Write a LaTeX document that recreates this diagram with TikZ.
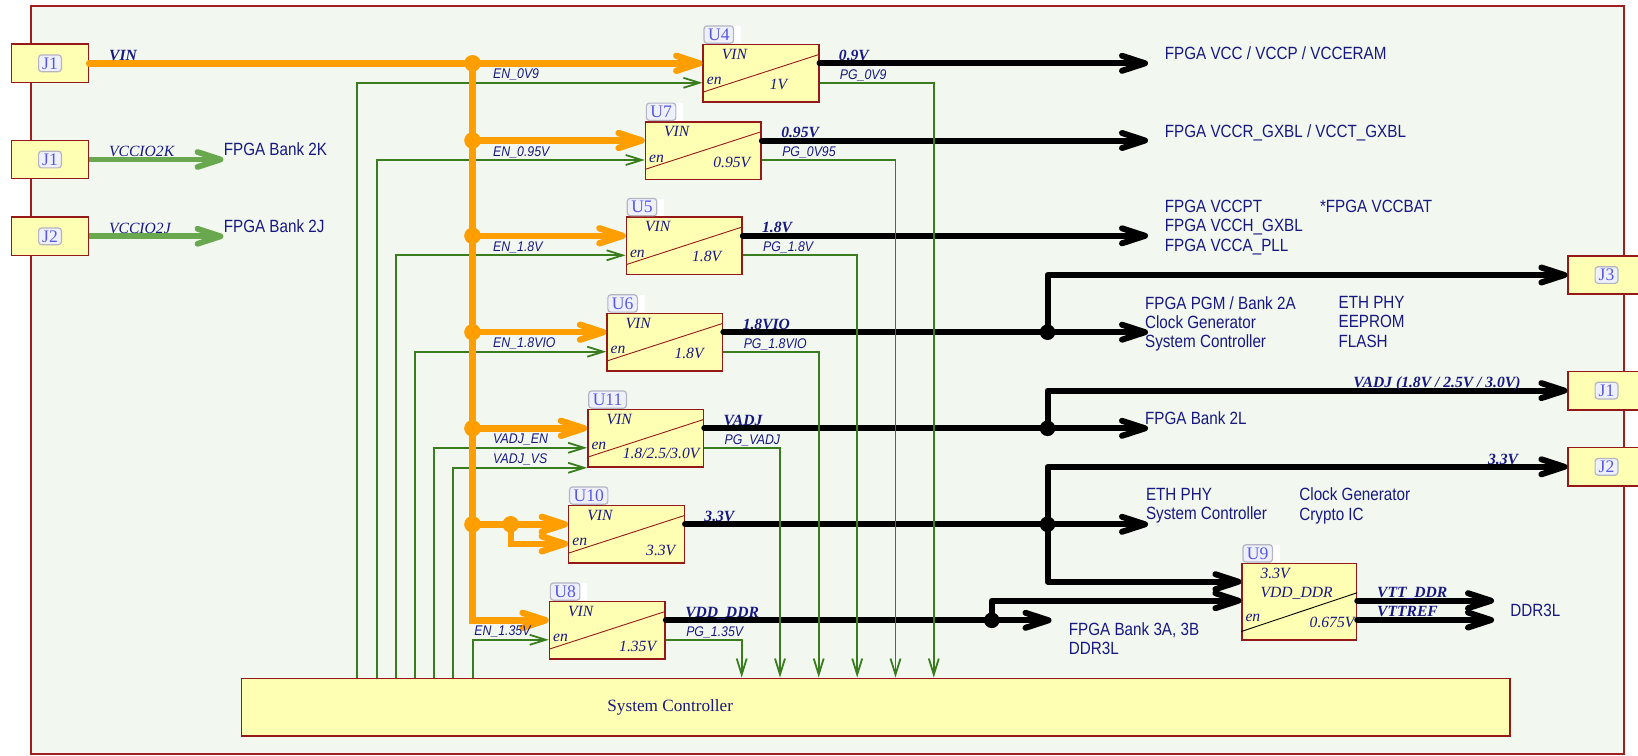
\documentclass[tikz,border=0pt]{standalone}
\usepackage{fontspec}
\setmainfont{Liberation Serif}
\newfontfamily\narrowsans[FakeStretch=0.86]{Liberation Sans}
\newfontfamily\slantsans[FakeStretch=0.88]{Liberation Sans Italic}
\usetikzlibrary{arrows.meta}

\definecolor{textblue}{RGB}{24,24,130}
\definecolor{tagblue}{RGB}{88,88,225}
\definecolor{taggrey}{RGB}{180,180,195}
\definecolor{tagfill}{RGB}{238,240,252}
\definecolor{boxyellow}{RGB}{255,255,180}
\definecolor{boxred}{RGB}{150,25,25}
\definecolor{framefill}{RGB}{242,248,240}
\definecolor{framered}{RGB}{160,30,30}
\definecolor{busorange}{RGB}{255,158,0}
\definecolor{wiregreen}{RGB}{58,125,30}
\definecolor{railgreen}{RGB}{106,168,79}

\newcommand\loadfont{\narrowsans\fontsize{8.85}{9.7}\selectfont}
\newcommand\netfont{\bfseries\itshape\fontsize{7.8}{9}\selectfont}
\newcommand\pinfont{\itshape\fontsize{7.8}{9}\selectfont}
\newcommand\enfont{\slantsans\fontsize{7}{8}\selectfont}
\newcommand\tagfont{\fontsize{8.8}{10}\selectfont}
\newcommand\scfont{\fontsize{8.6}{10}\selectfont}

\tikzstyle{power} = [line width=3pt,line cap=round,line join=round,-{Straight Barb[length=11.5pt,width=7.5pt,round]}]
\tikzstyle{bus line} = [draw=busorange,line width=3.2pt,line cap=round,-{Straight Barb[length=11.5pt,width=7.5pt,round]}]
\tikzstyle{vccio} = [draw=railgreen,line width=2.9pt,-{Straight Barb[length=11.5pt,width=7.5pt,round]}]
\tikzstyle{signal} = [draw=wiregreen,line width=0.9pt,-{Straight Barb[length=8pt,width=5pt]}]

\begin{document}
\begin{tikzpicture}[x=0.5pt,y=-0.5pt,
	ic node/.style={rectangle, draw=boxred, fill=boxyellow, line width=0.75pt, inner sep=0pt},
	reg node/.style={ic node, minimum width=57.8pt, minimum height=28.75pt,
		path picture={\draw[line width=0.45pt] ([yshift=5pt]path picture bounding box.south west) -- ([yshift=-5pt]path picture bounding box.north east);},
		label={[pin text, anchor=center, xshift=16pt, yshift=-5.2pt]north west:VIN},
		label={[pin text, anchor=west, xshift=2pt, yshift=-4pt]west:en}},
	vout/.style n args={3}{label={[pin text, anchor=east, xshift=#2, yshift=#3]east:#1}},
	tag look/.style={draw=taggrey, fill=tagfill, rounded corners=1.5pt, line width=0.6pt, text=tagblue, font=\tagfont, inner xsep=2pt, inner ysep=0pt},
	tag back/.style={anchor=south west, xshift=0.5pt, fill=white, minimum width=18.5pt, minimum height=8.65pt, inner sep=0pt},
	tag box/.style={tag look, anchor=south west, xshift=0.5pt, minimum height=8.65pt},
	ic tag/.style={label={[tag back]north west:{}}, label={[tag box]north west:#1}},
	j tag/.style={tag look, anchor=center, minimum width=11.4pt, minimum height=8.35pt, inner xsep=1pt},
	conn node/.style={ic node, minimum width=38.4pt, minimum height=19.2pt, label={[j tag]center:#1}},
	sc node/.style={ic node, minimum width=634.15pt, minimum height=28.85pt},
	pin text/.style={text=textblue, font=\pinfont, inner sep=0pt},
	net label/.style={text=textblue, font=\netfont, inner sep=0pt},
	en label/.style={text=textblue, font=\enfont, inner sep=0pt},
	load text/.style={text=textblue, font=\loadfont, inner sep=0pt, align=left},
	sc text/.style={text=textblue, font=\scfont, inner sep=0pt, anchor=center}]

	\useasboundingbox (0,0) rectangle (1638,755);
	% board
	\draw[draw=framered, fill=framefill, line width=0.9pt] (30.9,6) rectangle (1624,754);

	% regulators
	\node[reg node, ic tag=U4, vout={1V}{-16pt}{-5.5pt}] (u4) at (761,73.3) {};
	\node[reg node, ic tag=U7, vout={0.95V}{-5.6pt}{-5.9pt}] (u7) at (703.3,150.5) {};
	\node[reg node, ic tag=U5, vout={1.8V}{-10.6pt}{-5.5pt}] (u5) at (684.2,245.8) {};
	\node[reg node, ic tag=U6, vout={1.8V}{-9.7pt}{-5.5pt}] (u6) at (664.8,342.2) {};
	\node[reg node, ic tag=U11, vout={1.8/2.5/3.0V}{-2.2pt}{-7.5pt}] (u11) at (645.7,438.3) {};
	\node[reg node, ic tag=U10, vout={3.3V}{-4.7pt}{-8.2pt}] (u10) at (626.5,534.3) {};
	\node[reg node, ic tag=U8, vout={1.35V}{-4.7pt}{-8.2pt}] (u8) at (607.3,630.3) {};
	\node[ic node, ic tag=U9, minimum width=57.2pt, minimum height=38.35pt,
		label={[pin text, anchor=base west, xshift=9.45pt, yshift=-8.05pt]north west:3.3V},
		label={[pin text, anchor=base west, xshift=9.45pt, yshift=-17.6pt]north west:VDD\_DDR},
		label={[pin text, anchor=west, xshift=1.9pt, yshift=-8.3pt]west:en},
		label={[pin text, anchor=east, xshift=-1.25pt, yshift=-10.3pt]east:0.675V}] (u9) at (1299.3,601.7) {};
	\draw[line width=0.45pt] ([yshift=4.65pt]u9.south west) -- ([yshift=4.5pt]u9.east);

	\node[sc node, label={[sc text, xshift=-102.8pt]center:System Controller}] (sc) at (875.85,707.15) {};

	% connectors
	\node[conn node=J1] (j1a) at (50,63.3) {};
	\node[conn node=J1] (j1b) at (50,159.5) {};
	\node[conn node=J2] (j2a) at (50,236.3) {};
	\node[conn node=J3] (j3) at (1606.5,275) {};
	\node[conn node=J1] (j1r) at (1606.5,390.6) {};
	\node[conn node=J2] (j2r) at (1606.5,466.8) {};

	% pins
	\path ([yshift=5pt]u4.west) coordinate (u4in) ([yshift=-4.75pt]u4.west) coordinate (u4en)
		([yshift=5pt]u4.east) coordinate (u4out) ([yshift=-4.75pt]u4.east) coordinate (u4pg);
	\path ([yshift=5pt]u7.west) coordinate (u7in) ([yshift=-4.75pt]u7.west) coordinate (u7en)
		([yshift=5pt]u7.east) coordinate (u7out) ([yshift=-4.75pt]u7.east) coordinate (u7pg);
	\path ([yshift=5pt]u5.west) coordinate (u5in) ([yshift=-4.75pt]u5.west) coordinate (u5en)
		([yshift=5pt]u5.east) coordinate (u5out) ([yshift=-4.75pt]u5.east) coordinate (u5pg);
	\path ([yshift=5pt]u6.west) coordinate (u6in) ([yshift=-4.75pt]u6.west) coordinate (u6en)
		([yshift=5pt]u6.east) coordinate (u6out) ([yshift=-4.75pt]u6.east) coordinate (u6pg);
	\path ([yshift=5pt]u11.west) coordinate (u11in) ([yshift=-4.75pt]u11.west) coordinate (u11en)
		([yshift=5pt]u11.east) coordinate (u11out) ([yshift=-4.75pt]u11.east) coordinate (u11pg);
	\path ([yshift=5pt]u10.west) coordinate (u10in) ([yshift=-4.75pt]u10.west) coordinate (u10en)
		([yshift=5pt]u10.east) coordinate (u10out);
	\path ([yshift=5pt]u8.west) coordinate (u8in) ([yshift=-4.75pt]u8.west) coordinate (u8en)
		([yshift=5pt]u8.east) coordinate (u8out) ([yshift=-4.75pt]u8.east) coordinate (u8pg);
	\path ([yshift=10pt]u9.west) coordinate (u9a) ([yshift=0.5pt]u9.west) coordinate (u9b)
		([yshift=0.5pt]u9.east) coordinate (u9vtt) ([yshift=-9.15pt]u9.east) coordinate (u9ref);

	% left loads
	\node[load text, anchor=base west] (bank2k) at (223.4,155.3) {FPGA Bank 2K};
	\node[load text, anchor=base west] (bank2j) at (223.4,232) {FPGA Bank 2J};

	% output rails
	\coordinate (loads) at (1148,0);
	\coordinate (tap) at (1047.5,0);
	\coordinate (ddrtap) at (991.8,0);
	\coordinate (ddrload) at (1051.5,0);
	\coordinate (ddrdev) at (1494,0);
	\draw[power] (u4out) -- (u4out -| loads);
	\draw[power] (u7out) -- (u7out -| loads);
	\draw[power] (u5out) -- (u5out -| loads);
	\draw[power] (u6out) -- (u6out -| loads);
	\draw[power] (u11out) -- (u11out -| loads);
	\draw[power] (u10out) -- (u10out -| loads);
	\draw[power] (tap |- u6out) |- (j3.west);
	\draw[power] (tap |- u11out) |- (j1r.west);
	\draw[power] (tap |- u10out) |- (j2r.west);
	\draw[power] (tap |- u10out) |- (u9a);
	\draw[power] (u8out) -- (u8out -| ddrload);
	\draw[power] (ddrtap |- u8out) |- (u9b);
	\draw[power] (u9vtt) -- (u9vtt -| ddrdev);
	\draw[power] (u9ref) -- (u9ref -| ddrdev);
	\fill (tap |- u6out) circle (3.9pt) (tap |- u11out) circle (3.9pt)
		(tap |- u10out) circle (3.9pt) (ddrtap |- u8out) circle (3.9pt);

	% enables and power good
	\path (357.3,0) coordinate (en4) (376.7,0) coordinate (en7) (396,0) coordinate (en5)
		(415,0) coordinate (en6) (434,0) coordinate (en11) (453.3,0) coordinate (vs11) (472.7,0) coordinate (en8);
	\path (741.7,0) coordinate (pg8) (780,0) coordinate (pg11) (818.7,0) coordinate (pg6)
		(857.2,0) coordinate (pg5) (895.5,0) coordinate (pg7) (933.8,0) coordinate (pg4);
	\draw[signal] (en4 |- sc.north) |- (u4en);
	\draw[signal] (en7 |- sc.north) |- (u7en);
	\draw[signal] (en5 |- sc.north) |- (u5en);
	\draw[signal] (en6 |- sc.north) |- (u6en);
	\draw[signal] (en11 |- sc.north) |- (u11en);
	\draw[signal] (vs11 |- sc.north) |- (u11.south west);
	\draw[signal] (en8 |- sc.north) |- (u8en);
	\draw[signal] (u4pg) -| (pg4 |- sc.north);
	\draw[signal] (u7pg) -| (pg7 |- sc.north);
	\draw[signal] (u5pg) -| (pg5 |- sc.north);
	\draw[signal] (u6pg) -| (pg6 |- sc.north);
	\draw[signal] (u11pg) -| (pg11 |- sc.north);
	\draw[signal] (u8pg) -| (pg8 |- sc.north);

	% input bus
	\coordinate (bus) at (472.5,0);
	\draw[bus line] (j1a.east) -- (u4in);
	\draw[bus line] (bus |- u4in) |- (u8in);
	\draw[bus line] (bus |- u7in) -- (u7in);
	\draw[bus line] (bus |- u5in) -- (u5in);
	\draw[bus line] (bus |- u6in) -- (u6in);
	\draw[bus line] (bus |- u11in) -- (u11in);
	\draw[bus line] (bus |- u10in) -- (u10in);
	\path (bus |- u10in) ++(38.2,0) coordinate (u10tap);
	\draw[bus line] (u10tap) |- (u10en);
	\fill[busorange] (bus |- u4in) circle (4.15pt) (bus |- u7in) circle (4.15pt) (bus |- u5in) circle (4.15pt)
		(bus |- u6in) circle (4.15pt) (bus |- u11in) circle (4.15pt) (bus |- u10in) circle (4.15pt) (u10tap) circle (4.15pt);
	\draw[vccio] (j1b.east) -- (j1b.east -| bank2k.west);
	\draw[vccio] (j2a.east) -- (j2a.east -| bank2j.west);

	% net names
	\node[net label, anchor=base west] (nvin) at ([shift={(9.8pt,1.15pt)}]j1a.east) {VIN};
	\node[pin text, anchor=base west] (n2k) at ([shift={(9.8pt,1.75pt)}]j1b.east) {VCCIO2K};
	\node[pin text, anchor=base west] (n2j) at ([shift={(9.8pt,1.45pt)}]j2a.east) {VCCIO2J};
	\node[net label, anchor=base west] (n4) at ([shift={(9.5pt,1.5pt)}]u4out) {0.9V};
	\node[net label, anchor=base west] (n7) at ([shift={(9.5pt,1.5pt)}]u7out) {0.95V};
	\node[net label, anchor=base west] (n5) at ([shift={(9.5pt,1.5pt)}]u5out) {1.8V};
	\node[net label, anchor=base west] (n6) at ([shift={(9.5pt,1.5pt)}]u6out) {1.8VIO};
	\node[net label, anchor=base west] (n11) at ([shift={(9.5pt,1.5pt)}]u11out) {VADJ};
	\node[net label, anchor=base west] (n10) at ([shift={(9.5pt,1.5pt)}]u10out) {3.3V};
	\node[net label, anchor=base west] (n8) at ([shift={(9.5pt,1.5pt)}]u8out) {VDD\_DDR};
	\node[net label, anchor=base east] (nvadj) at ([shift={(-23.25pt,1.6pt)}]j1r.west) {VADJ (1.8V / 2.5V / 3.0V)};
	\node[net label, anchor=base east] (n33) at ([shift={(-24.5pt,1.2pt)}]j2r.west) {3.3V};
	\node[net label, anchor=base west] (nvtt) at ([shift={(9.75pt,1.45pt)}]u9vtt) {VTT\_DDR};
	\node[net label, anchor=base west] (nref) at ([shift={(9.75pt,1.6pt)}]u9ref) {VTTREF};

	\node[en label, anchor=base west] (lpg4) at ([shift={(10pt,1.75pt)}]u4pg) {PG\_0V9};
	\node[en label, anchor=base west] (lpg7) at ([shift={(10pt,1.75pt)}]u7pg) {PG\_0V95};
	\node[en label, anchor=base west] (lpg5) at ([shift={(10pt,1.75pt)}]u5pg) {PG\_1.8V};
	\node[en label, anchor=base west] (lpg6) at ([shift={(10pt,1.75pt)}]u6pg) {PG\_1.8VIO};
	\node[en label, anchor=base west] (lpg11) at ([shift={(10pt,1.75pt)}]u11pg) {PG\_VADJ};
	\node[en label, anchor=base west] (lpg8) at ([shift={(10pt,1.75pt)}]u8pg) {PG\_1.35V};
	\coordinate (enlab) at (492.8,0);
	\node[en label, anchor=base west, yshift=2pt] (len4) at (enlab |- u4en) {EN\_0V9};
	\node[en label, anchor=base west, yshift=2pt] (len7) at (enlab |- u7en) {EN\_0.95V};
	\node[en label, anchor=base west, yshift=2pt] (len5) at (enlab |- u5en) {EN\_1.8V};
	\node[en label, anchor=base west, yshift=2pt] (len6) at (enlab |- u6en) {EN\_1.8VIO};
	\node[en label, anchor=base west, yshift=2pt] (len11) at (enlab |- u11en) {VADJ\_EN};
	\node[en label, anchor=base west, yshift=2pt] (lvs11) at (enlab |- u11.south west) {VADJ\_VS};
	\node[en label, anchor=base west, yshift=2pt, xshift=0.65pt] (len8) at (en8 |- u8en) {EN\_1.35V};

	% loads
	\node[load text, anchor=base west] (vcc) at (1164.5,59.6) {FPGA VCC / VCCP / VCCERAM};
	\node[load text, anchor=base west] (vccr) at (1164.5,137) {FPGA VCCR\_GXBL / VCCT\_GXBL};
	\node[load text, anchor=north west] (vccpt) at (1164.5,199.5) {FPGA VCCPT\\FPGA VCCH\_GXBL\\FPGA VCCA\_PLL};
	\node[load text, anchor=base west] (vccbat) at (1319.6,212.3) {*FPGA VCCBAT};
	\node[load text, anchor=north west] (pgm) at (1144.7,295.8) {FPGA PGM / Bank 2A\\Clock Generator\\System Controller};
	\node[load text, anchor=north west] (eth) at (1338.2,295.8) {ETH PHY\\EEPROM\\FLASH};
	\node[load text, anchor=base west] (bank2l) at (1144.7,424.6) {FPGA Bank 2L};
	\node[load text, anchor=north west] (eth2) at (1145.6,487.5) {ETH PHY\\System Controller};
	\node[load text, anchor=north west] (clk) at (1299,487.5) {Clock Generator\\Crypto IC};
	\node[load text, anchor=north west] (bank3) at (1068.5,621.8) {FPGA Bank 3A, 3B\\DDR3L};
	\node[load text, anchor=base west] (ddr3l) at (1510,616.3) {DDR3L};
\end{tikzpicture}
\end{document}
